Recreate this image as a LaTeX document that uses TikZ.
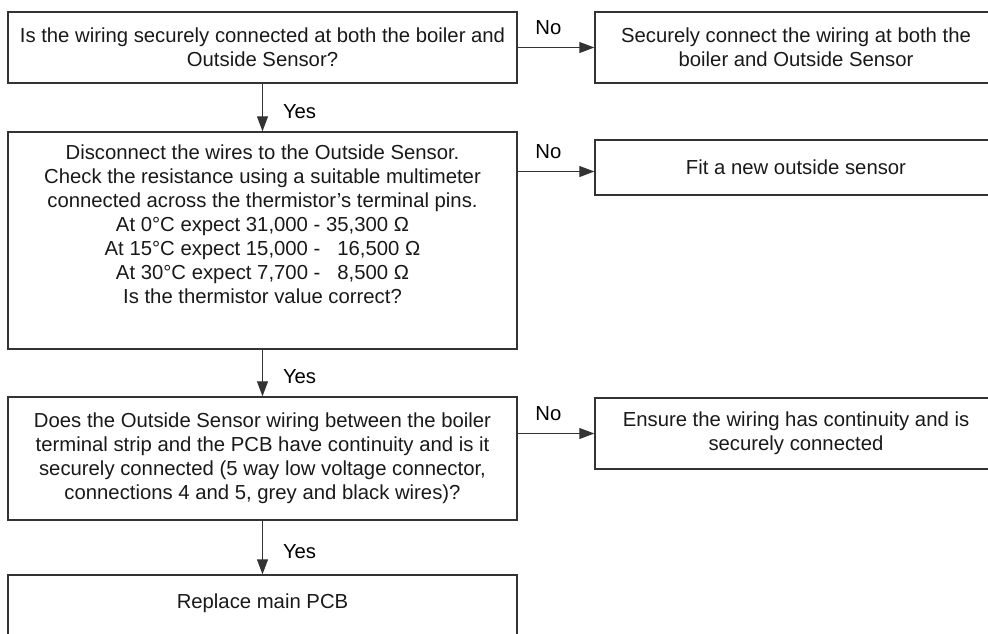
\documentclass[tikz,border=0pt]{standalone}
\usepackage{fontspec}
\setmainfont{Liberation Sans}
\usetikzlibrary{arrows.meta, positioning, calc}

\tikzset{
  stepbox/.style={draw=black!80, line width=1.4pt, align=center, inner sep=0pt,
    font=\fontsize{20.3}{24}\selectfont, text=black!90},
  flow/.style={draw=black!80, line width=1pt, -{Triangle[length=15pt,width=11pt]}},
  yeslbl/.style={anchor=west, inner sep=0pt, xshift=20pt, font=\fontsize{20.3}{24}\selectfont},
  nolbl/.style={anchor=south, inner sep=0pt, yshift=12pt, font=\fontsize{20.3}{24}\selectfont},
}

\begin{document}
\begin{tikzpicture}[x=1pt, y=-1pt]
  \clip (0,0) rectangle (988,633);

  % left column
  \node[stepbox, minimum width=509pt, minimum height=71pt] (wiring) at (262.5,47.5)
    {Is the wiring securely connected at both the boiler and\\Outside Sensor?};
  \node[stepbox, minimum width=509pt, minimum height=217pt] (check) at (262.5,240.5)
    {Disconnect the wires to the Outside Sensor.\\
     Check the resistance using a suitable multimeter\\
     connected across the thermistor’s terminal pins.\\
     At 0°C expect 31,000 - 35,300 Ω\\
     At 15°C expect 15,000 -\ \ \ 16,500 Ω\\
     At 30°C expect 7,700 -\ \ \ 8,500 Ω\\
     Is the thermistor value correct?\\[9pt] \mbox{}};
  \node[stepbox, minimum width=509pt, minimum height=123pt] (cont) at (262.5,458.5)
    {Does the Outside Sensor wiring between the boiler\\
     terminal strip and the PCB have continuity and is it\\
     securely connected (5 way low voltage connector,\\
     connections 4 and 5, grey and black wires)?};
  \node[stepbox, minimum width=509pt, minimum height=100pt] (pcb) at (262.5,625)
    {Replace main PCB\\ \mbox{}\\ \mbox{}};

  % right column
  \node[stepbox, minimum width=402pt, minimum height=71pt] (conn) at (796,47.5)
    {Securely connect the wiring at both the\\boiler and Outside Sensor};
  \node[stepbox, minimum width=402pt, minimum height=55pt] (fit) at (796,167.5)
    {Fit a new outside sensor};
  \node[stepbox, minimum width=402pt, minimum height=71pt] (ensure) at (796,433.5)
    {Ensure the wiring has continuity and is\\securely connected};

  % yes path
  \draw[flow] (wiring.south) -- node[yeslbl, pos=.58] {Yes} (check.north);
  \draw[flow] (check.south) -- node[yeslbl, pos=.58] {Yes} (cont.north);
  \draw[flow] (cont.south) -- node[yeslbl, pos=.58] {Yes} (pcb.north);

  % no path
  \coordinate (fitin) at ($(fit.west)+(0,4)$);
  \draw[flow] (wiring.east) -- node[nolbl, pos=.4] {No} (conn.west);
  \draw[flow] (fitin -| check.east) -- node[nolbl, pos=.4] {No} (fitin);
  \draw[flow] (ensure.west -| cont.east) -- node[nolbl, pos=.4] {No} (ensure.west);
\end{tikzpicture}
\end{document}
